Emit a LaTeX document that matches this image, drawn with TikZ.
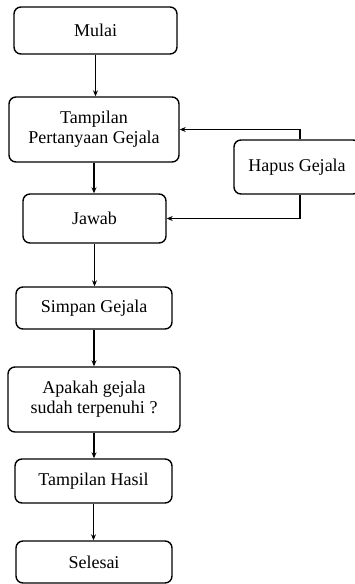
\documentclass[tikz,border=0pt]{standalone}
\usepackage{fontspec}
\setmainfont{Liberation Serif}
\usetikzlibrary{arrows.meta}

\begin{document}
\begin{tikzpicture}
    [x=1pt,y=-1pt,every node/.style={draw,line width=1.4pt,rounded corners=7pt,align=center,font=\fontsize{18}{20}\selectfont},
     flow/.style={line width=1.3pt,-{Stealth[length=6pt,width=5pt]}}]
    \useasboundingbox (0,0) rectangle (355,584);
    \node[minimum width=163pt,minimum height=47pt] (mulai) at (95.5,30.5) {Mulai};
    \node[minimum width=170pt,minimum height=65pt] (tampil) at (94,129.5) {Tampilan\\Pertanyaan Gejala};
    \node[minimum width=126pt,minimum height=54pt] (hapus) at (297,167) {Hapus Gejala};
    \node[minimum width=143pt,minimum height=49pt] (jawab) at (94.5,218.5) {Jawab};
    \node[minimum width=156pt,minimum height=42pt] (simpan) at (94,308) {Simpan Gejala};
    \node[minimum width=172pt,minimum height=65pt] (apakah) at (94,399.5) {Apakah gejala\\sudah terpenuhi ?};
    \node[minimum width=157pt,minimum height=44pt] (hasil) at (93.5,481) {Tampilan Hasil};
    \node[minimum width=156pt,minimum height=42pt] (selesai) at (94,562) {Selesai};

    \draw [flow] (mulai) -- (mulai |- tampil.north);
    \draw [flow] (tampil) -- (tampil |- jawab.north);
    \draw [flow] (jawab) -- (jawab |- simpan.north);
    \draw [flow] (simpan) -- (simpan |- apakah.north);
    \draw [flow] (apakah) -- (apakah |- hasil.north);
    \draw [flow] (hasil) -- (hasil |- selesai.north);

    \draw [flow] (hapus.north -| 300,0) |- (tampil.east);
    \draw [flow] (hapus.south -| 300,0) |- (jawab.east);
  \end{tikzpicture}
\end{document}
